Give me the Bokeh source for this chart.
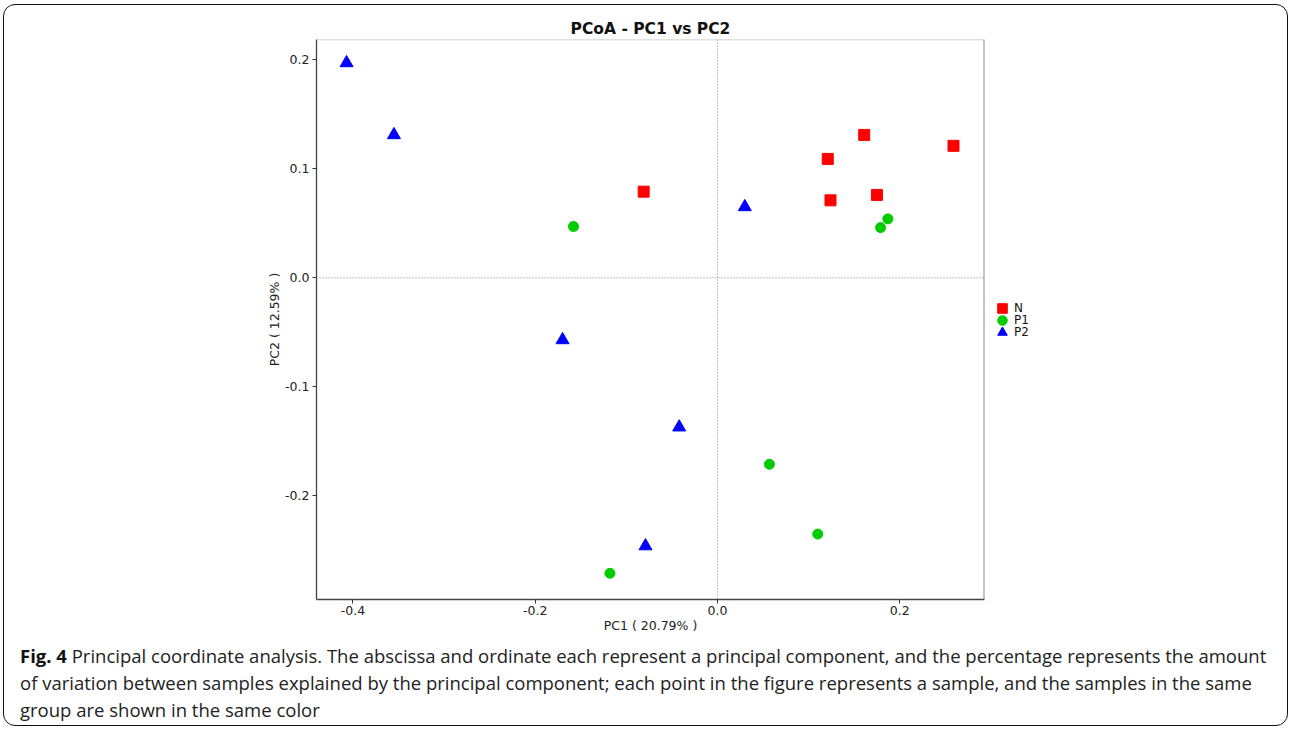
from bokeh.plotting import figure
from bokeh.layouts import column, row
from bokeh.models import (Range1d, FixedTicker, NumeralTickFormatter, Span,
                          Legend, LegendItem, Div)
from bokeh.embed import file_html
from bokeh.resources import INLINE

# ---------------- data ----------------
groups = ["N", "P1", "P2"]
group_colors = ["#ff0000", "#00cc00", "#0000ff"]
group_markers = ["square", "circle", "triangle"]
n_pc1 = [-0.081, 0.121, 0.161, 0.259, 0.175, 0.124]
n_pc2 = [0.079, 0.109, 0.131, 0.121, 0.076, 0.071]
p1_pc1 = [-0.158, 0.179, 0.187, 0.057, 0.110, -0.118]
p1_pc2 = [0.047, 0.046, 0.054, -0.171, -0.235, -0.271]
p2_pc1 = [-0.407, -0.355, 0.030, -0.170, -0.042, -0.079]
p2_pc2 = [0.197, 0.131, 0.065, -0.057, -0.137, -0.246]
x_ticks = [-0.4, -0.2, 0.0, 0.2]
y_ticks = [-0.2, -0.1, 0.0, 0.1, 0.2]
title_text = "PCoA - PC1 vs PC2"
x_label = "PC1 ( 20.79% )"
y_label = "PC2 ( 12.59% )"
caption_bold = "Fig. 4"
caption_lines = [
    "Principal coordinate analysis. The abscissa and ordinate each represent a principal component, and the percentage represents the amount",
    "of variation between samples explained by the principal component; each point in the figure represents a sample, and the samples in the same",
    "group are shown in the same color",
]

# ---------------- layout ----------------
X0, X1 = -0.44, 0.293
Y0, Y1 = -0.295, 0.2185
FONT = "DejaVu Sans"
MAIN_W, LEG_W, TOP_H, CAP_H = 990, 300, 641, 88
FRAME_BOTTOM = 599

p = figure(width=MAIN_W, height=TOP_H, output_backend="svg", toolbar_location=None,
           x_range=Range1d(X0, X1), y_range=Range1d(Y0, Y1),
           min_border_left=316, min_border_right=MAIN_W - 984,
           min_border_top=39, min_border_bottom=TOP_H - FRAME_BOTTOM, title=title_text)
p.grid.visible = False
p.outline_line_color = None
p.background_fill_color = "white"
p.border_fill_color = "white"

p.title.align = "center"
p.title.text_font = FONT
p.title.text_font_size = "15.5px"
p.title.text_font_style = "bold"
p.title.text_color = "#111111"
p.title.standoff = 4

for ax, ticks in ((p.xaxis[0], x_ticks), (p.yaxis[0], y_ticks)):
    ax.ticker = FixedTicker(ticks=ticks)
    ax.formatter = NumeralTickFormatter(format="0.0")
    ax.minor_tick_line_color = None
    ax.major_tick_in = 0
    ax.major_tick_out = 4
    ax.major_tick_line_color = "#333333"
    ax.axis_line_color = "#444444"
    ax.axis_line_width = 1.3
    ax.major_label_text_font = FONT
    ax.major_label_text_font_size = "12.5px"
    ax.major_label_text_color = "#222222"
    ax.axis_label_text_font = FONT
    ax.axis_label_text_font_size = "12.5px"
    ax.axis_label_text_font_style = "normal"
    ax.axis_label_text_color = "#222222"
    ax.major_label_standoff = 3
p.xaxis.axis_label = x_label
p.yaxis.axis_label = y_label
p.xaxis.major_label_standoff = 2
p.xaxis.axis_label_standoff = 0
p.yaxis.axis_label_standoff = 0

# box top / right lines and zero lines
p.add_layout(Span(location=Y1, dimension="width", line_color="#c4c4c4", line_width=1.5))
p.add_layout(Span(location=X1, dimension="height", line_color="#8a8a8a", line_width=2))
p.add_layout(Span(location=0, dimension="width", line_color="#888888",
                  line_dash="1 2", line_width=1))
p.add_layout(Span(location=0, dimension="height", line_color="#888888",
                  line_dash="1 2", line_width=1))

sizes = {"square": 11, "circle": 10, "triangle": 13}
series = [(n_pc1, n_pc2), (p1_pc1, p1_pc2), (p2_pc1, p2_pc2)]
for (xs, ys), c, m in zip(series, group_colors, group_markers):
    p.scatter(xs, ys, marker=m, size=sizes[m], color=c)

# ---------------- legend panel (right of the axes box) ----------------
lg = figure(width=LEG_W, height=TOP_H, output_backend="svg", toolbar_location=None,
            x_axis_type=None, y_axis_type=None, min_border=0,
            x_range=Range1d(0, 1), y_range=Range1d(0, 1))
lg.grid.visible = False
lg.outline_line_color = None
lg.background_fill_color = "white"
lg.border_fill_color = "white"
row_centers = [308, 320, 332]   # screen rows of the legend entries
for (xs, ys), g, c, m, yc in zip(series, groups, group_colors, group_markers, row_centers):
    r = lg.scatter(xs, ys, marker=m, color=c, visible=False)
    lg.add_layout(Legend(items=[LegendItem(label=g, renderers=[r])],
                         location=(0, FRAME_BOTTOM - yc - 12),
                         glyph_width=24, glyph_height=24, label_height=24,
                         padding=0, margin=0, label_standoff=0, spacing=0,
                         border_line_color=None, background_fill_alpha=0,
                         inactive_fill_alpha=0,
                         label_text_font=FONT, label_text_font_size="12px",
                         label_text_color="#111111"))

# ---------------- caption + outer rounded frame ----------------
cap_html = ('<div style="position:relative;top:-4px;padding:0 0 0 15px;white-space:nowrap;'
            'font-family:\'Open Sans\',sans-serif;font-size:18.5px;line-height:27px;color:#222;">'
            '<b style="color:#111">' + caption_bold + '</b><span> ' + caption_lines[0]
            + '</span><br><span>' + caption_lines[1] + '</span><br><span>'
            + caption_lines[2] + '</span></div>'
            '<div style="position:fixed;left:3px;top:4px;width:1285px;height:722px;'
            'box-sizing:border-box;border:1.5px solid #111;border-radius:12px;'
            'pointer-events:none;z-index:10;"></div>')
caption = Div(text=cap_html, width=MAIN_W + LEG_W, height=CAP_H)

layout = column(row(p, lg, spacing=0), caption, spacing=0)
open("out.html", "w").write(file_html(layout, INLINE))
